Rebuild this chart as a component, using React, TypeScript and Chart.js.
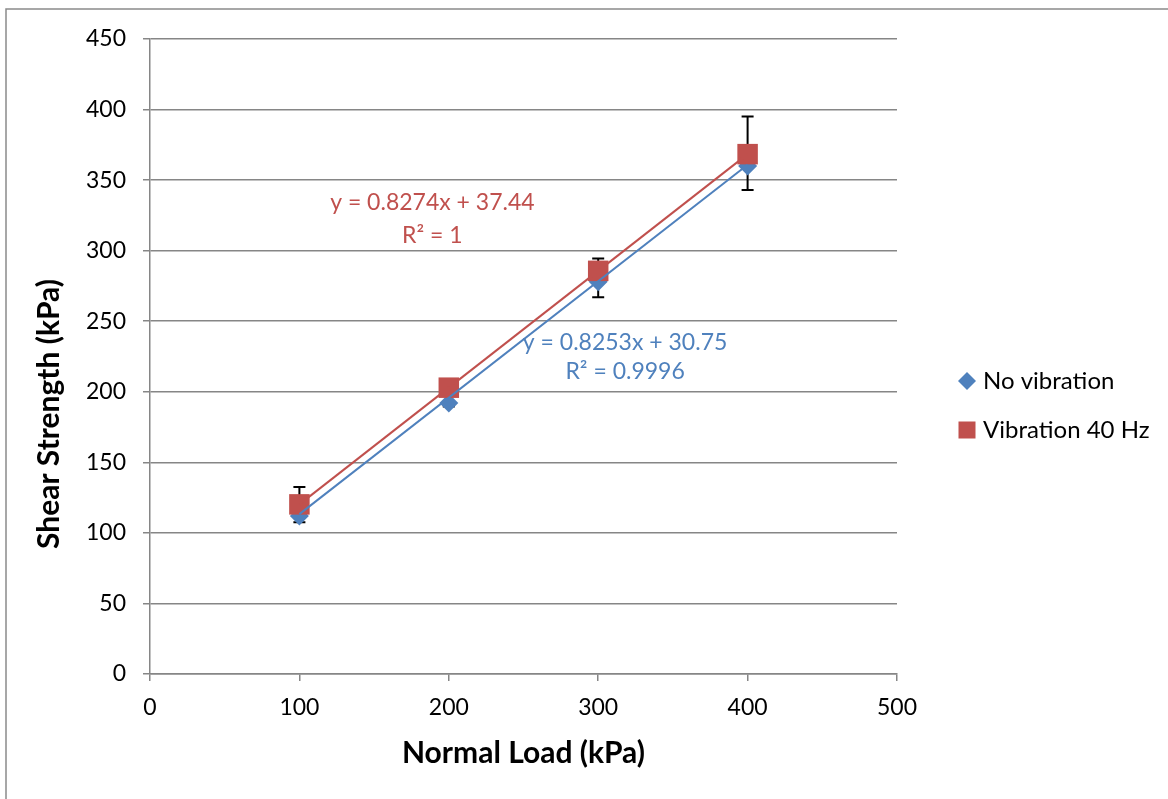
import React, { useEffect, useRef } from "react";
import { Chart, registerables } from "chart.js";

Chart.register(...registerables);

// ---- Data ----
const normalLoad = [100, 200, 300, 400];
const noVibration = [112, 192, 278, 360];
const vibration40 = [120.2, 202.9, 285.7, 368.4];
const errorHigh = [132.5, 205, 294.5, 395];
const errorLow = [107.5, 189.5, 267, 343];
const trendNoVibration = [0.8253, 30.75]; // slope, intercept
const trendVibration40 = [0.8274, 37.44];
const seriesNames = ["No vibration", "Vibration 40 Hz"];
const xTitle = "Normal Load (kPa)";
const yTitle = "Shear Strength (kPa)";
const trendTexts = [
  ["y = 0.8274x + 37.44", "R² = 1"],
  ["y = 0.8253x + 30.75", "R² = 0.9996"],
];

// ---- Styles ----
const BLUE = "#4F81BD";
const RED = "#C0504D";
const GRID = "#868686";
const FONT = "Lato, 'Open Sans', sans-serif";

const trendPoints = (coef: number[]) => {
  const x0 = normalLoad[0];
  const x1 = normalLoad[normalLoad.length - 1];
  return [
    { x: x0, y: coef[0] * x0 + coef[1] },
    { x: x1, y: coef[0] * x1 + coef[1] },
  ];
};

// annotation anchors in data coordinates
const annotationAnchors = [
  { x: 189, y: [334, 311], color: RED },
  { x: 318, y: [235, 214], color: BLUE },
];

const framePlugin = {
  id: "frame",
  beforeDraw(chart: any) {
    const ctx = chart.ctx;
    ctx.save();
    ctx.strokeStyle = "#8a8a8a";
    ctx.lineWidth = 1.5;
    ctx.beginPath();
    ctx.moveTo(6, chart.height);
    ctx.lineTo(6, 9);
    ctx.lineTo(chart.width, 9);
    ctx.stroke();
    ctx.restore();
  },
};

const yTitlePlugin = {
  id: "yTitle",
  afterDraw(chart: any) {
    const ctx = chart.ctx;
    ctx.save();
    ctx.translate(49.5, 414);
    ctx.rotate(-Math.PI / 2);
    ctx.font = `bold 30px ${FONT}`;
    ctx.fillStyle = "#000";
    ctx.textAlign = "center";
    ctx.textBaseline = "middle";
    ctx.fillText(yTitle, 0, 0);
    ctx.restore();
  },
};

const errorBarPlugin = {
  id: "errorBars",
  beforeDatasetsDraw(chart: any) {
    const ctx = chart.ctx;
    const xs = chart.scales.x;
    const ys = chart.scales.y;
    ctx.save();
    ctx.strokeStyle = "#000";
    ctx.lineWidth = 2;
    normalLoad.forEach((xv, i) => {
      const px = xs.getPixelForValue(xv);
      const hi = ys.getPixelForValue(errorHigh[i]);
      const lo = ys.getPixelForValue(errorLow[i]);
      ctx.beginPath();
      ctx.moveTo(px, hi);
      ctx.lineTo(px, lo);
      ctx.moveTo(px - 6, hi);
      ctx.lineTo(px + 6, hi);
      ctx.moveTo(px - 6, lo);
      ctx.lineTo(px + 6, lo);
      ctx.stroke();
    });
    ctx.restore();
  },
};

const annotationPlugin = {
  id: "trendText",
  afterDatasetsDraw(chart: any) {
    const ctx = chart.ctx;
    const xs = chart.scales.x;
    const ys = chart.scales.y;
    ctx.save();
    ctx.font = `23px ${FONT}`;
    ctx.textAlign = "center";
    ctx.textBaseline = "middle";
    annotationAnchors.forEach((a, i) => {
      ctx.fillStyle = a.color;
      trendTexts[i].forEach((t, j) => {
        ctx.fillText(t, xs.getPixelForValue(a.x), ys.getPixelForValue(a.y[j]));
      });
    });
    ctx.restore();
  },
};

const legendPlugin = {
  id: "customLegend",
  afterDraw(chart: any) {
    const ctx = chart.ctx;
    const ca = chart.chartArea;
    const mx = ca.right + 70;
    const tx = ca.right + 86;
    const y0 = 381;
    const gap = 49;
    ctx.save();
    // diamond
    ctx.fillStyle = BLUE;
    ctx.beginPath();
    ctx.moveTo(mx, y0 - 9);
    ctx.lineTo(mx + 9, y0);
    ctx.lineTo(mx, y0 + 9);
    ctx.lineTo(mx - 9, y0);
    ctx.closePath();
    ctx.fill();
    // square
    ctx.fillStyle = RED;
    ctx.fillRect(mx - 8.5, y0 + gap - 8.5, 17, 17);
    ctx.fillStyle = "#000";
    ctx.font = `24px ${FONT}`;
    ctx.textAlign = "left";
    ctx.textBaseline = "middle";
    ctx.fillText(seriesNames[0], tx, y0);
    ctx.fillText(seriesNames[1], tx, y0 + gap);
    ctx.restore();
  },
};

export default function App() {
  const ref = useRef<HTMLCanvasElement>(null);

  useEffect(() => {
    if (!ref.current) return;
    Chart.defaults.font.family = FONT;
    const chart = new Chart(ref.current, {
      type: "scatter",
      data: {
        datasets: [
          {
            label: "Trend no vibration",
            data: trendPoints(trendNoVibration),
            showLine: true,
            borderColor: BLUE,
            borderWidth: 2,
            pointRadius: 0,
            order: 0,
          } as any,
          {
            label: "Trend vibration 40 Hz",
            data: trendPoints(trendVibration40),
            showLine: true,
            borderColor: RED,
            borderWidth: 2,
            pointRadius: 0,
            order: 1,
          },
          {
            label: seriesNames[1],
            data: normalLoad.map((x, i) => ({ x, y: vibration40[i] })),
            pointStyle: "rect",
            pointRadius: 14.5,
            backgroundColor: RED,
            borderColor: RED,
            borderWidth: 0,
            order: 2,
          },
          {
            label: seriesNames[0],
            data: normalLoad.map((x, i) => ({ x, y: noVibration[i] })),
            pointStyle: "rectRot",
            pointRadius: 9.5,
            backgroundColor: BLUE,
            borderColor: BLUE,
            borderWidth: 0,
            order: 3,
          },
        ],
      },
      options: {
        responsive: false,
        animation: false,
        layout: { padding: { left: 27.5, top: 39, right: 271, bottom: 24 } },
        plugins: {
          legend: { display: false },
          tooltip: { enabled: false },
        },
        scales: {
          x: {
            type: "linear",
            min: 0,
            max: 500,
            ticks: { stepSize: 100, color: "#000", font: { size: 23 }, padding: 13 },
            grid: {
              drawOnChartArea: false,
              drawTicks: true,
              tickLength: 7,
              color: GRID,
              lineWidth: 1.5,
            },
            border: { color: GRID, width: 1.5 },
            title: {
              display: true,
              text: xTitle,
              color: "#000",
              font: { size: 30, weight: "bold" },
              padding: { top: 4, bottom: 4 },
            },
            afterFit: (s: any) => {
              s.height = 101;
            },
          },
          y: {
            min: 0,
            max: 450,
            ticks: { stepSize: 50, color: "#000", font: { size: 23 }, padding: 17 },
            grid: { color: GRID, lineWidth: 1.5, tickLength: 7 },
            border: { color: GRID, width: 1.5 },
            title: { display: false, text: yTitle },
            afterFit: (s: any) => {
              s.width = 122.5;
            },
          },
        },
      },
      plugins: [framePlugin, errorBarPlugin, annotationPlugin, legendPlugin, yTitlePlugin],
    });
    return () => chart.destroy();
  }, []);

  return (
    <div style={{ position: "absolute", left: 0, top: 0, width: 1168, height: 799, overflow: "hidden", background: "#fff" }}>
      <canvas ref={ref} width={1168} height={799} style={{ display: "block" }} />
    </div>
  );
}
